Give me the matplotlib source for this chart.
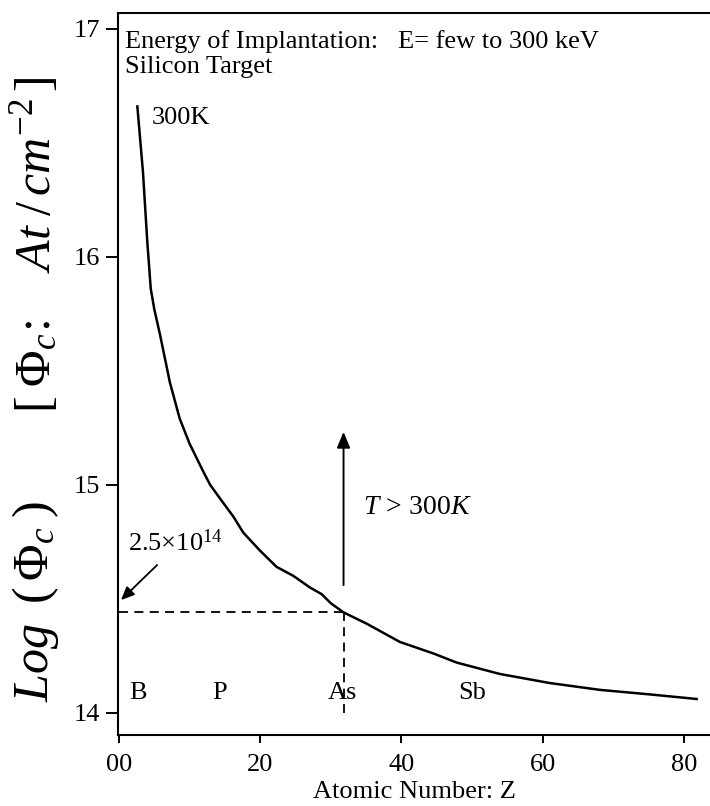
import matplotlib
matplotlib.use('Agg')
import matplotlib.pyplot as plt

z_vals = [2.6, 3.4, 4.0, 4.5, 5.0, 5.8, 7.2, 8.6, 10.0, 11.9, 12.9, 14.3, 16.2, 17.6,
          20.0, 22.3, 24.7, 27.0, 28.7, 30.0, 31.8, 35.1, 39.8, 44.5, 47.8, 53.9,
          61.0, 68.1, 75.2, 81.8]
log_phi = [16.66, 16.37, 16.07, 15.86, 15.77, 15.66, 15.45, 15.29, 15.18, 15.06, 15.00,
           14.94, 14.86, 14.79, 14.71, 14.64, 14.60, 14.55, 14.52, 14.48, 14.44, 14.39,
           14.31, 14.26, 14.22, 14.17, 14.13, 14.10, 14.08, 14.06]

elements = ['B', 'P', 'As', 'Sb']
element_z = [2.7, 14.2, 31.7, 50.0]
element_y = 14.087

as_z = 31.8
phi_as = 14.443      # level of 2.5x10^14 as drawn
arrow_top = 15.232
arrow_bottom = 14.56

xticks = [0, 20, 40, 60, 80]
xticklabels = ['00', '20', '40', '60', '80']
yticks = [14, 15, 16, 17]

plt.rcParams['font.family'] = ['Liberation Serif', 'DejaVu Serif']
plt.rcParams['mathtext.fontset'] = 'custom'
plt.rcParams['mathtext.rm'] = 'Liberation Serif'
plt.rcParams['mathtext.it'] = 'Liberation Serif:italic'

fig = plt.figure(figsize=(7.1, 8.06), dpi=100)
ax = fig.add_axes([0.1662, 0.0881, 0.8338, 0.8958])

ax.plot(z_vals, log_phi, color='black', lw=1.8)

# dashed guides at As
ax.plot([0, as_z], [phi_as, phi_as], color='black', lw=1.3, ls=(0, (5, 3.5)))
ax.plot([as_z, as_z], [14.0, phi_as], color='black', lw=1.3, ls=(0, (5, 3.5)))
ax.annotate('', xy=(as_z, arrow_top), xytext=(as_z, arrow_bottom),
            arrowprops=dict(arrowstyle='-|>,head_length=0.6,head_width=0.25',
                            color='black', lw=1.4,
                            mutation_scale=16, shrinkA=0, shrinkB=0))

ax.text(0.85, 16.995, 'Energy of Implantation:   E= few to 300 keV\nSilicon Target',
        fontsize=19, va='top', ha='left', linespacing=1.2)
ax.text(4.7, 16.61, '300K', fontsize=19, va='center', ha='left')
ax.text(34.5, 14.90, r'$T\,>\,300K$', fontsize=20, va='center', ha='left')
ax.text(1.3, 14.745, r'2.5$\times$10$^{14}$', fontsize=19, va='center', ha='left')
ax.annotate('', xy=(0.28, 14.494), xytext=(5.4, 14.648),
            arrowprops=dict(arrowstyle='-|>,head_length=0.5,head_width=0.22',
                            color='black', lw=1.3,
                            mutation_scale=16, shrinkA=0, shrinkB=0))

for name, zx in zip(elements, element_z):
    ax.text(zx, element_y, name, fontsize=19, ha='center', va='center')

ax.set_xlim(-0.14, 83.7)
ax.set_ylim(13.902, 17.07)
ax.set_xticks(xticks)
ax.set_xticklabels(xticklabels)
ax.set_yticks(yticks)
ax.tick_params(axis='x', direction='out', length=6, width=1.4, pad=8, labelsize=19)
ax.tick_params(axis='y', direction='out', length=9, width=1.4, pad=4, labelsize=19)
ax.spines['right'].set_visible(False)
for s in ['left', 'bottom', 'top']:
    ax.spines[s].set_linewidth(1.5)

ax.set_xlabel('Atomic Number: Z', fontsize=19, labelpad=3)

# y label in two pieces, as on the original
fig.text(0.050, 0.254, r'$Log\;\;(\,\Phi_c\;)$',
         rotation=90, fontsize=36, ha='center', va='center')
fig.text(0.050, 0.696, r'$[\;\Phi_c\!:\;\;\;\;At\;/\,cm^{-2}\,]$',
         rotation=90, fontsize=36, ha='center', va='center')

fig.savefig('out.png', dpi=100, facecolor='white')
